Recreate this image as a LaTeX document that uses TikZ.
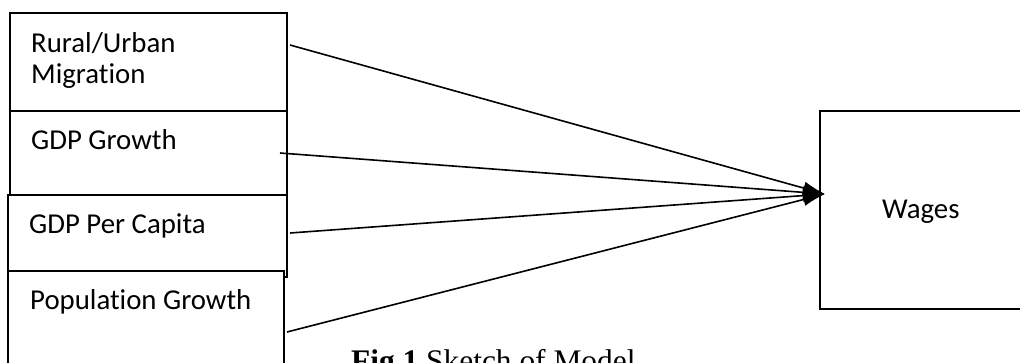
\documentclass[tikz,border=0pt]{standalone}
\usepackage{fontspec}
\setmainfont{Carlito}[Ligatures=NoCommon]
\newfontfamily\capfont{Liberation Serif}
\usetikzlibrary{arrows.meta}
\begin{document}
\begin{tikzpicture}[x=1pt,y=-1pt,
  box/.style={draw=black, line width=1.3pt, fill=white, inner sep=0pt, outer sep=0pt, anchor=north west},
  lbl/.style={inner sep=0pt, anchor=base west, font=\fontsize{28.8}{31}\selectfont},
  conn/.style={line width=1.6pt, -{Latex[length=22pt,width=13pt]}}]
\useasboundingbox (0,0) rectangle (1020,362);
% input boxes
\node[box, minimum width=277pt, minimum height=98pt] (b1) at (10,13) {};
\node[box, minimum width=277pt, minimum height=84pt] (b2) at (10,111) {};
\node[box, minimum width=279pt, minimum height=82pt] (b3) at (8,195) {};
\node[box, minimum width=276pt, minimum height=110pt] (b4) at (8,271) {};
% output box
\node[box, minimum width=215pt, minimum height=198pt] (w) at (820,111) {};
% labels
\node[lbl] (t1a) at (31,52) {Rural/Urban};
\node[lbl] (t1b) at (31,83) {Migration};
\node[lbl] (t2) at (31,149) {GDP Growth};
\node[lbl] (t3) at (29,233) {GDP Per Capita};
\node[lbl] (t4) at (30,309) {Population Growth};
\node[lbl] (tw) at (882,218) {Wages};
% caption
\node[inner sep=0pt, anchor=base west, font=\capfont\fontsize{31.4}{34}\selectfont] (cap) at (351,371) {\textbf{Fig.1} Sketch of Model};
% connectors
\coordinate (s1) at (290,45);
\coordinate (s2) at (280,153);
\coordinate (s3) at (290,233);
\coordinate (s4) at (287,332);
\coordinate (tip) at (825,194);
\draw[conn] (s1) -- (tip);
\draw[conn] (s2) -- (tip);
\draw[conn] (s3) -- (tip);
\draw[conn] (s4) -- (tip);
\end{tikzpicture}
\end{document}
